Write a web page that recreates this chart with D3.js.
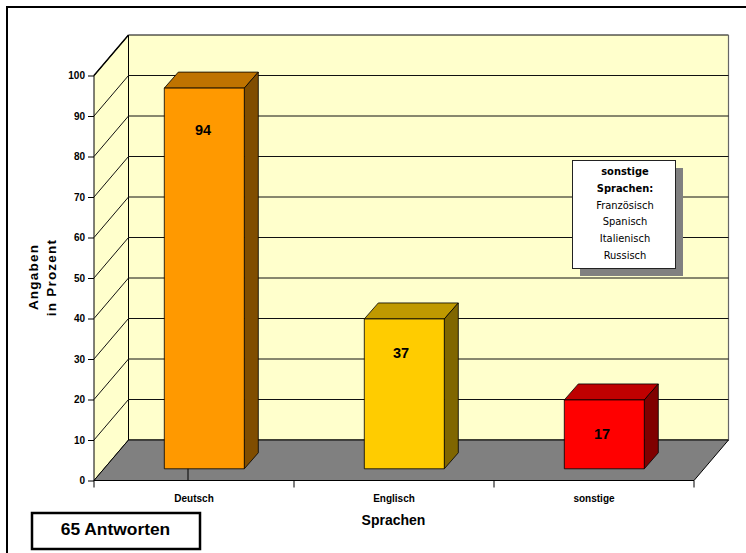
<!DOCTYPE html>
<html><head><meta charset="utf-8">
<script src="https://cdn.jsdelivr.net/npm/d3@7"></script>
<style>html,body{margin:0;padding:0;background:#fff}svg{display:block}text{font-family:"Liberation Sans",Arial,sans-serif}</style>
</head><body><svg id="c" width="746" height="553"></svg>
<script>
const categories = ["Deutsch", "Englisch", "sonstige"];
const values = [94, 37, 17];
const fills = ["#ff9900", "#ffcc00", "#ff0000"];
const topFills = ["#bf7300", "#bf9900", "#bf0000"];
const sideFills = ["#804d00", "#806600", "#800000"];
const yTicks = d3.range(0, 101, 10);
const noteLines = ["sonstige", "Sprachen:", "Französisch", "Spanisch", "Italienisch", "Russisch"];

const svg = d3.select("#c");
const x = d3.scaleBand().domain(categories).range([94, 694]);
const y = d3.scaleLinear().domain([0, 100]).range([480.5, 75.5]);
const depth = {dx: 34.5, dy: -40.5};
const barDepth = {dx: 14, dy: -16};
const barOffset = {dx: 70.3, dy: -11.7};
const barW = 80;
const labelX = [203, 401, 602];
const labelDrop = [46.5, 39.3, 38.6];
const poly = pts => pts.map(p => p.join(",")).join(" ");

// page frame
svg.append("path").attr("d", "M7,553V7H746").attr("fill", "none").attr("stroke", "#000").attr("stroke-width", 2);

// walls and floor
const [x0, x1] = x.range();
const y0 = y(0), y100 = y(100);
svg.append("polygon").attr("points", poly([[x0 + depth.dx, y0 + depth.dy], [x1 + depth.dx, y0 + depth.dy], [x1 + depth.dx, y100 + depth.dy], [x0 + depth.dx, y100 + depth.dy]]))
  .attr("fill", "#ffffcc").attr("stroke", "#000").attr("stroke-width", 1);
svg.append("line").attr("x1", x1 + depth.dx).attr("x2", x1 + depth.dx).attr("y1", y100 + depth.dy).attr("y2", y0 + depth.dy)
  .attr("stroke", "#666").attr("stroke-width", 1.2);
svg.append("polygon").attr("points", poly([[x0, y0], [x0 + depth.dx, y0 + depth.dy], [x0 + depth.dx, y100 + depth.dy], [x0, y100]]))
  .attr("fill", "#ffffcc").attr("stroke", "#000").attr("stroke-width", 1);

// gridlines run along the side wall, then across the back wall
svg.append("g").selectAll("path").data(yTicks.filter(d => d > 0 && d < 100)).join("path")
  .attr("d", d => `M${x0},${y(d)}L${x0 + depth.dx},${y(d) + depth.dy}H${x1 + depth.dx}`)
  .attr("fill", "none").attr("stroke", "#111").attr("stroke-width", 1);
svg.append("path").attr("d", `M${x0},${y(100)}L${x0 + depth.dx},${y(100) + depth.dy}`).attr("stroke", "#000").attr("stroke-width", 1.4);
svg.append("polygon").attr("points", poly([[x0, y0], [x1, y0], [x1 + depth.dx, y0 + depth.dy], [x0 + depth.dx, y0 + depth.dy]]))
  .attr("fill", "#808080").attr("stroke", "#000").attr("stroke-width", 1);

// value axis
const yAxis = d3.axisLeft(y).tickValues(yTicks).tickSize(6).tickPadding(3);
const gy = svg.append("g").attr("transform", `translate(${x0},0)`).call(yAxis);
gy.selectAll("text").attr("font-size", 10).attr("font-weight", "bold").attr("fill", "#000").style("font-family", '"Liberation Sans",Arial,sans-serif');
gy.selectAll("line,path").attr("stroke", "#000");
gy.select(".domain").attr("d", `M${x0},${y100}V${y0}`);

// category axis
const xAxis = d3.axisBottom(x).tickSize(0).tickPadding(14);
const gx = svg.append("g").attr("transform", `translate(0,${y0})`).call(xAxis);
gx.select(".domain").attr("d", `M${x0},0H${x1}`).attr("stroke", "#000");
gx.selectAll("text").attr("font-size", 10).attr("font-weight", "bold").attr("fill", "#000").style("font-family", '"Liberation Sans",Arial,sans-serif');
gx.append("g").selectAll("line").data(d3.range(categories.length + 1)).join("line")
  .attr("x1", i => x0 + i * x.step()).attr("x2", i => x0 + i * x.step()).attr("y1", 0).attr("y2", 7).attr("stroke", "#000");

// bars as three-faced boxes
const base = y0 + barOffset.dy;
const barH = v => y(0) - y(v);
const bars = svg.append("g").selectAll("g").data(categories).join("g");
bars.each(function (c, i) {
  const g = d3.select(this), l = x(c) + barOffset.dx, r = l + barW, t = base - barH(values[i]);
  const s = {stroke: "#000", "stroke-opacity": 0.8, "stroke-width": 1};
  const face = (pts, f) => { const p = g.append("polygon").attr("points", poly(pts)).attr("fill", f); for (const k in s) p.attr(k, s[k]); };
  face([[l, t], [r, t], [r + barDepth.dx, t + barDepth.dy], [l + barDepth.dx, t + barDepth.dy]], topFills[i]);
  face([[r, t], [r + barDepth.dx, t + barDepth.dy], [r + barDepth.dx, base + barDepth.dy], [r, base]], sideFills[i]);
  face([[l, t], [r, t], [r, base], [l, base]], fills[i]);
  g.append("text").attr("x", labelX[i]).attr("y", t + labelDrop[i]).attr("text-anchor", "middle")
    .attr("font-size", 14.5).attr("font-weight", "bold").attr("fill", "#000").text(values[i]);
});

// axis titles
svg.append("text").attr("x", 393.5).attr("y", 525).attr("text-anchor", "middle").attr("font-size", 14).attr("font-weight", "bold").text("Sprachen");
svg.append("text").attr("transform", "translate(38,277) rotate(-90)").attr("text-anchor", "middle").attr("font-size", 13.5).attr("font-weight", "bold").attr("letter-spacing", 1.2).text("Angaben");
svg.append("text").attr("transform", "translate(56,277.5) rotate(-90)").attr("text-anchor", "middle").attr("font-size", 13.5).attr("font-weight", "bold").attr("letter-spacing", 1.2).text("in Prozent");

// response count box
svg.append("rect").attr("x", 32).attr("y", 513).attr("width", 168).attr("height", 36).attr("fill", "#fff").attr("stroke", "#000").attr("stroke-width", 2.5);
svg.append("text").attr("x", 115.5).attr("y", 535).attr("text-anchor", "middle").attr("font-size", 17.4).attr("font-weight", "bold").text("65 Antworten");

// annotation box with drop shadow
svg.append("rect").attr("x", 580).attr("y", 168).attr("width", 103).attr("height", 108).attr("fill", "#808080");
svg.append("rect").attr("x", 572.5).attr("y", 160.5).attr("width", 103).attr("height", 108).attr("fill", "#fff").attr("stroke", "#222");
svg.append("g").selectAll("text").data(noteLines).join("text")
  .attr("x", 625).attr("y", (d, i) => 175 + i * 16.8).attr("text-anchor", "middle")
  .style("font-family", '"DejaVu Sans Condensed","Open Sans",sans-serif').attr("font-size", 11)
  .attr("font-weight", (d, i) => i < 2 ? "bold" : "normal").attr("fill", "#000").text(d => d);
</script></body></html>
